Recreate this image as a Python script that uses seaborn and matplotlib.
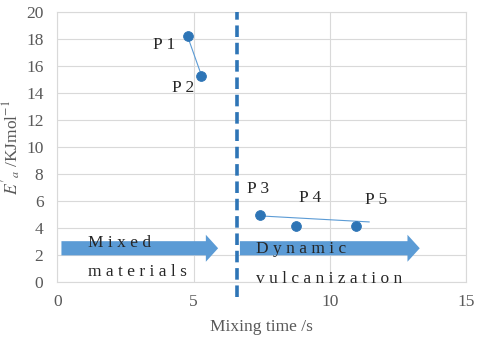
import matplotlib
matplotlib.use("Agg")
import matplotlib.pyplot as plt
import seaborn as sns
import pandas as pd
from matplotlib.patches import FancyArrow

# Data
labels = ["P 1", "P 2", "P 3", "P 4", "P 5"]
mix_time = [4.78, 5.29, 7.42, 8.77, 10.97]
ea = [18.2, 15.3, 4.96, 4.15, 4.15]
trend_x = [7.42, 11.45]
trend_y = [4.9, 4.45]
divider_x = 6.61
xticks = [0, 5, 10, 15]
yticks = list(range(0, 21, 2))

sns.set_theme(style="white")
plt.rcParams['font.family'] = ['Liberation Serif', 'DejaVu Serif']
plt.rcParams['mathtext.fontset'] = 'stix'

fig = plt.figure(figsize=(4.78, 3.46), dpi=100)
ax = fig.add_axes([0.120, 0.185, 0.855, 0.780])

df = pd.DataFrame({"t": mix_time, "e": ea, "lab": labels})
blue = "#2E75B6"
light = "#5B9BD5"

sns.lineplot(x=df["t"][:2], y=df["e"][:2], ax=ax, color=light, lw=0.8, zorder=3)
sns.lineplot(x=trend_x, y=trend_y, ax=ax, color=light, lw=0.8, zorder=3)
sns.scatterplot(data=df, x="t", y="e", ax=ax, color=blue, s=50, edgecolor=blue, zorder=4)

ax.set_xlim(0, 15)
ax.set_ylim(0, 20)
ax.set_xticks(xticks)
ax.set_yticks(yticks)
ax.grid(True, color="#d9d9d9", lw=0.8)
for s in ax.spines.values():
    s.set_color("#d9d9d9")
    s.set_linewidth(0.8)
ax.tick_params(axis="x", colors="#595959", labelsize=12.5, length=0, pad=9)
ax.tick_params(axis="y", colors="#595959", labelsize=12.5, length=0, pad=10)
ax.set_xlabel("Mixing time /s", color="#595959", fontsize=12.5, labelpad=6)
ax.set_ylabel(r"$E'_a$ /KJmol$^{-1}$", color="#595959", fontsize=12.5, labelpad=2)

# dashed divider extending below axis
ax.plot([divider_x, divider_x], [-1.1, 20], color=blue, lw=2.6, ls=(0, (3.2, 1.6)),
        clip_on=False, zorder=5)

# arrows
ax.add_patch(FancyArrow(0.15, 2.5, 5.3, 0, width=1.05, head_width=2.0, head_length=0.45,
                        length_includes_head=False, color=light, lw=0, zorder=2))
ax.add_patch(FancyArrow(6.7, 2.5, 6.15, 0, width=1.05, head_width=2.0, head_length=0.45,
                        length_includes_head=False, color=light, lw=0, zorder=2))

txt = dict(color="#262626", fontsize=12.5)
ax.text(1.12, 2.9, "M i x e d", **txt, va="center")
ax.text(1.12, 0.75, "m a t e r i a l s", **txt, va="center")
ax.text(7.3, 2.45, "D y n a m i c", **txt, va="center")
ax.text(7.3, 0.25, "v u l c a n i z a t i o n", **txt, va="center")

# point labels
pos = [(3.5, 17.55), (4.2, 14.4), (6.95, 6.9), (8.88, 6.2), (11.3, 6.05)]
for (x, y), lab in zip(pos, labels):
    ax.text(x, y, lab, **txt, va="center")

fig.savefig("out.png", dpi=100)
